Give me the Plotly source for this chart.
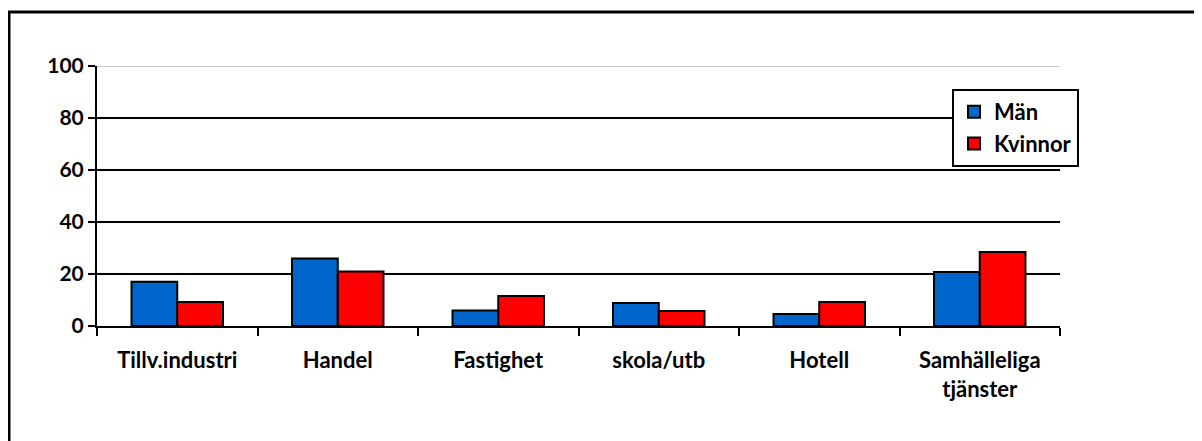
import plotly.graph_objects as go

categories = ["Tillv.industri", "Handel", "Fastighet", "skola/utb", "Hotell", "Samhälleliga<br>tjänster"]
man = [17, 26, 6, 8.8, 4.6, 20.8]
kvinnor = [9.2, 21, 11.5, 5.8, 9.2, 28.5]
yticks = [0, 20, 40, 60, 80, 100]

FONT = "Lato"
OFF = 8  # page body margin
W, H = 1202 - OFF, 441 - OFF
L, T = 97 - OFF, 66 - OFF
R = W - (1060 - OFF)
B = H - (326 - OFF)
pw = W - L - R
ph = H - T - B

fig = go.Figure()
fig.add_trace(go.Bar(x=categories, y=man, name="Män",
                     marker=dict(color="#0066CC", line=dict(color="black", width=2))))
fig.add_trace(go.Bar(x=categories, y=kvinnor, name="Kvinnor",
                     marker=dict(color="#FF0000", line=dict(color="black", width=2))))

fig.update_layout(
    width=W, height=H,
    margin=dict(l=L, r=R, t=T, b=B),
    paper_bgcolor="white", plot_bgcolor="white",
    barmode="group", bargap=0.43, bargroupgap=0,
    font=dict(family=FONT, size=21, color="black"),
    showlegend=True,
    legend=dict(x=(952 - 97) / pw, y=(326 - 89) / ph, xanchor="left", yanchor="top",
                bgcolor="white", bordercolor="black", borderwidth=2,
                font=dict(family=FONT, size=22, color="black", weight="bold"),
                itemwidth=30, tracegroupgap=4),
    xaxis=dict(showline=True, linecolor="black", linewidth=2,
               ticks="outside", tickson="boundaries", ticklen=8, tickwidth=2, tickcolor="black",
               ticklabelstandoff=14,
               tickfont=dict(family=FONT, size=22, color="black", weight="bold"),
               showgrid=False),
    yaxis=dict(range=[0, 100], tickvals=yticks, showline=True, linecolor="black", linewidth=2,
               ticks="outside", ticklen=7, tickwidth=2, tickcolor="black",
               showgrid=True, gridcolor="black", gridwidth=2, zeroline=False,
               tickfont=dict(family=FONT, size=21, color="black", weight="bold")),
)

# light top gridline
fig.add_shape(type="line", xref="paper", yref="y", x0=0, x1=1, y0=100, y1=100,
              line=dict(color="#C8C8C8", width=2), layer="above")
# outer chart border (cut off at right/bottom)
fig.add_shape(type="rect", xref="paper", yref="paper",
              x0=(9 - 97) / pw, x1=(1202 + 40 - 97) / pw,
              y0=-(441 + 40 - 326) / ph, y1=1 + (66 - 12) / ph,
              line=dict(color="black", width=3), fillcolor="rgba(0,0,0,0)", layer="above")

fig.write_html("out.html")
